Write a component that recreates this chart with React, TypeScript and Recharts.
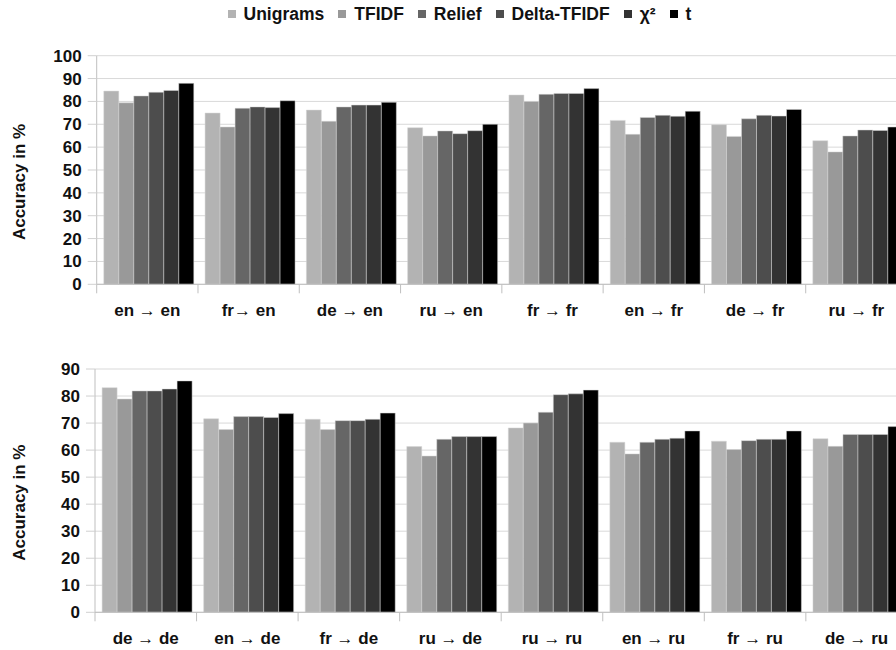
import React from 'react';
import { BarChart, Bar, XAxis, YAxis, CartesianGrid, Legend } from 'recharts';

const categoriesTop = ['en → en', 'fr→ en', 'de → en', 'ru → en', 'fr → fr', 'en → fr', 'de → fr', 'ru → fr'];
const categoriesBottom = ['de → de', 'en → de', 'fr → de', 'ru → de', 'ru → ru', 'en → ru', 'fr → ru', 'de → ru'];

const seriesNames = ['Unigrams', 'TFIDF', 'Relief', 'Delta-TFIDF', 'χ²', 't'];
const seriesColors = ['#b3b3b3', '#999999', '#666666', '#4d4d4d', '#333333', '#000000'];

const unigramsTop = [84.5, 74.9, 76.2, 68.5, 82.8, 71.7, 69.8, 62.8];
const tfidfTop = [79.4, 68.8, 71.3, 64.9, 80.0, 65.6, 64.7, 57.9];
const reliefTop = [82.4, 77.0, 77.6, 67.1, 83.1, 73.0, 72.4, 64.9];
const deltaTop = [84.0, 77.6, 78.4, 65.9, 83.5, 73.9, 73.9, 67.5];
const chiTop = [84.8, 77.3, 78.4, 67.2, 83.5, 73.5, 73.6, 67.3];
const tTop = [87.9, 80.3, 79.6, 70.0, 85.6, 75.7, 76.5, 68.8];

const unigramsBottom = [83.1, 71.6, 71.4, 61.3, 68.2, 62.9, 63.3, 64.2];
const tfidfBottom = [78.9, 67.6, 67.6, 57.8, 70.0, 58.6, 60.2, 61.4];
const reliefBottom = [81.9, 72.4, 70.9, 64.0, 74.0, 62.9, 63.5, 65.8];
const deltaBottom = [81.9, 72.4, 70.9, 65.0, 80.5, 64.0, 64.0, 65.8];
const chiBottom = [82.6, 72.1, 71.4, 65.0, 80.8, 64.4, 64.0, 65.8];
const tBottom = [85.6, 73.5, 73.7, 65.0, 82.2, 67.1, 67.1, 68.7];

const ticksTop = [0, 10, 20, 30, 40, 50, 60, 70, 80, 90, 100];
const ticksBottom = [0, 10, 20, 30, 40, 50, 60, 70, 80, 90];

const keys = ['s0', 's1', 's2', 's3', 's4', 's5'];

function buildRows(cats: string[], series: number[][]) {
  return cats.map((c, i) => {
    const row: any = { name: c };
    series.forEach((s, j) => {
      row[keys[j]] = s[i];
    });
    return row;
  });
}

const dataTop = buildRows(categoriesTop, [unigramsTop, tfidfTop, reliefTop, deltaTop, chiTop, tTop]);
const dataBottom = buildRows(categoriesBottom, [unigramsBottom, tfidfBottom, reliefBottom, deltaBottom, chiBottom, tBottom]);

const FONT = '"Liberation Sans", Arial, sans-serif';
const TEXT = '#111111';

const CatTick = (props: any) => {
  const { x, y, payload, index, visibleTicksCount } = props;
  const half = payload && payload.offset ? payload.offset : 50;
  return (
    <g>
      <line x1={x - half} y1={y} x2={x - half} y2={y + 9} stroke="#bfbfbf" strokeWidth={1} />
      {index === visibleTicksCount - 1 && (
        <line x1={x + half} y1={y} x2={x + half} y2={y + 9} stroke="#bfbfbf" strokeWidth={1} />
      )}
      <text
        x={x}
        y={y + 26}
        textAnchor="middle"
        dominantBaseline="central"
        fontFamily={FONT}
        fontWeight="bold"
        fontSize={17}
        fill={TEXT}
      >
        {payload.value}
      </text>
    </g>
  );
};

const YLabel = (props: any) => {
  const vb = props.viewBox || { x: 0, y: 0, width: 0, height: 0 };
  const cx = 20;
  const cy = vb.y + vb.height / 2 + 12;
  return (
    <text
      x={cx}
      y={cy}
      transform={`rotate(-90, ${cx}, ${cy})`}
      textAnchor="middle"
      dominantBaseline="central"
      fontFamily={FONT}
      fontWeight="bold"
      fontSize={17}
      fill={TEXT}
    >
      Accuracy in %
    </text>
  );
};

const LegendContent = () => (
  <div
    style={{
      display: 'flex',
      justifyContent: 'center',
      alignItems: 'center',
      height: 28,
      paddingLeft: 12,
      fontFamily: FONT,
      fontWeight: 'bold',
      fontSize: 17.5,
      color: TEXT,
    }}
  >
    {seriesNames.map((n, i) => (
      <div key={n} style={{ display: 'flex', alignItems: 'center', marginRight: i === seriesNames.length - 1 ? 0 : 14 }}>
        <span style={{ display: 'inline-block', width: 8, height: 8, background: seriesColors[i], marginRight: 8 }} />
        <span>{n}</span>
      </div>
    ))}
  </div>
);

const yTickStyle = { fontFamily: FONT, fontWeight: 'bold' as const, fontSize: 17, fill: TEXT };

function renderBars() {
  return keys.map((k, i) => (
    <Bar
      key={k}
      dataKey={k}
      name={seriesNames[i]}
      fill={seriesColors[i]}
      stroke="#d6d6d6"
      strokeWidth={0.5}
      isAnimationActive={false}
    />
  ));
}

export default function App() {
  return (
    <div
      style={{
        position: 'fixed',
        left: 0,
        top: 0,
        width: 896,
        height: 650,
        overflow: 'hidden',
        background: '#fff',
      }}
    >
      <BarChart
        width={912}
        height={338}
        data={dataTop}
        margin={{ top: 0, right: 5, bottom: 23.7, left: 0 }}
        barCategoryGap="7%"
        barGap={0}
      >
        <Legend verticalAlign="top" align="center" height={55.7} content={<LegendContent />} />
        <CartesianGrid vertical={false} stroke="#d9d9d9" />
        <XAxis
          dataKey="name"
          height={30}
          tickSize={0}
          tickMargin={0}
          tickLine={false}
          axisLine={{ stroke: '#bfbfbf' }}
          tick={<CatTick />}
          interval={0}
        />
        <YAxis
          width={96.7}
          domain={[0, 100]}
          ticks={ticksTop}
          interval={0}
          tickSize={9}
          tickMargin={6}
          tickLine={{ stroke: '#d0d0d0' }}
          axisLine={{ stroke: '#bfbfbf' }}
          tick={yTickStyle}
          label={<YLabel />}
        />
        {renderBars()}
      </BarChart>
      <BarChart
        width={912}
        height={312}
        data={dataBottom}
        margin={{ top: 31, right: 4.6, bottom: 7.7, left: 0 }}
        barCategoryGap="7%"
        barGap={0}
      >
        <CartesianGrid vertical={false} stroke="#d9d9d9" />
        <XAxis
          dataKey="name"
          height={30}
          tickSize={0}
          tickMargin={0}
          tickLine={false}
          axisLine={{ stroke: '#bfbfbf' }}
          tick={<CatTick />}
          interval={0}
        />
        <YAxis
          width={95}
          domain={[0, 90]}
          ticks={ticksBottom}
          interval={0}
          tickSize={9}
          tickMargin={6}
          tickLine={{ stroke: '#d0d0d0' }}
          axisLine={{ stroke: '#bfbfbf' }}
          tick={yTickStyle}
          label={<YLabel />}
        />
        {renderBars()}
      </BarChart>
    </div>
  );
}
